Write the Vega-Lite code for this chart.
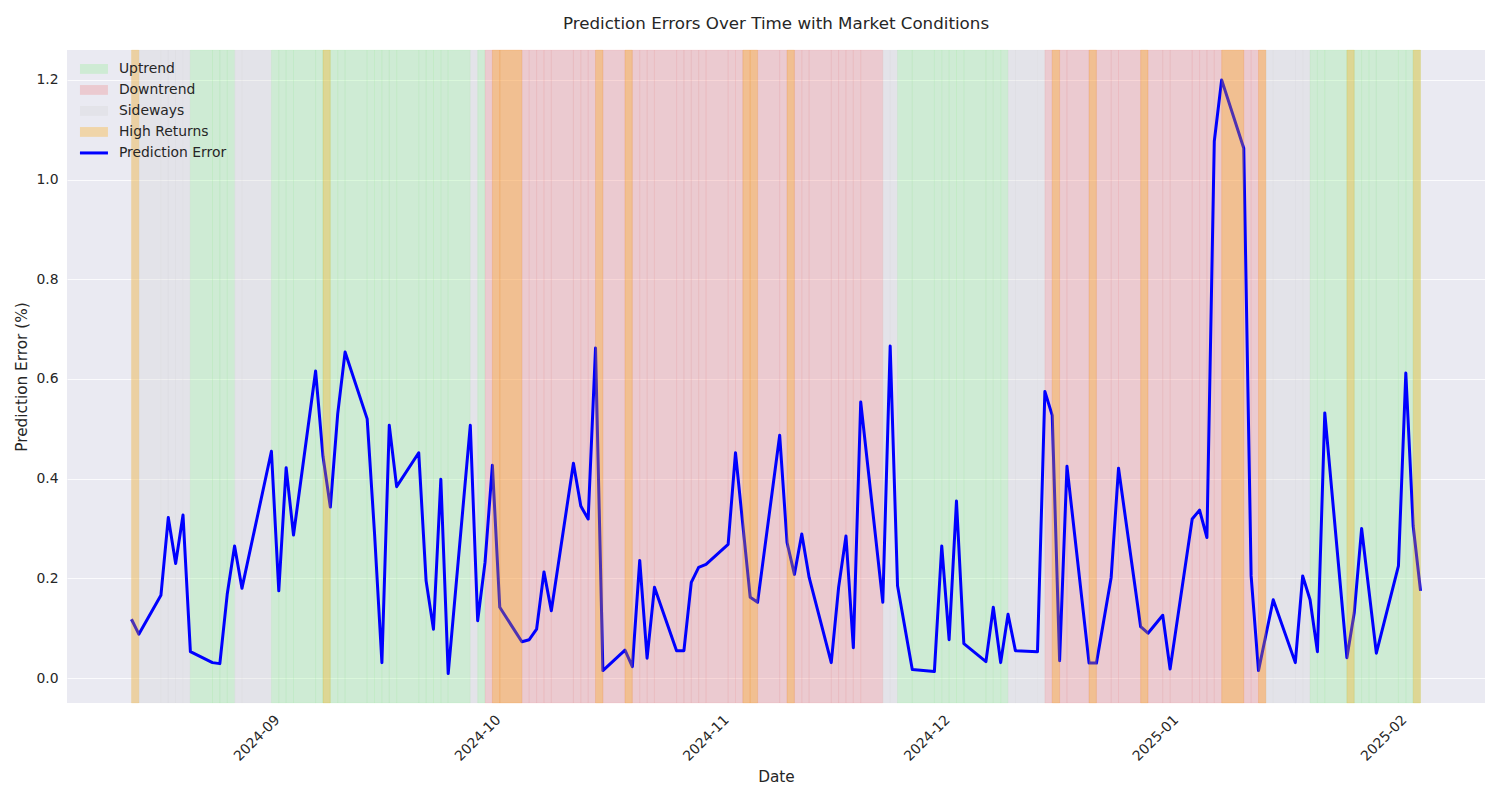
{
  "$schema": "https://vega.github.io/schema/vega-lite/v6.json",
  "width": 1418,
  "height": 653,
  "autosize": "none",
  "padding": {"left": 67, "top": 50, "right": 15, "bottom": 97},
  "background": "white",
  "title": {"text": "Prediction Errors Over Time with Market Conditions", "fontSize": 16.7, "font": "DejaVu Sans", "fontWeight": "normal", "color": "#262626", "offset": 17, "anchor": "middle", "frame": "group"},
  "config": {
    "view": {"fill": "#EAEAF2", "stroke": null},
    "font": "DejaVu Sans",
    "axis": {"domain": false, "ticks": false, "labelFont": "DejaVu Sans", "labelFontSize": 13.9, "labelColor": "#262626", "titleFont": "DejaVu Sans", "titleFontSize": 15.3, "titleFontWeight": "normal", "titleColor": "#262626", "gridColor": "#FFFFFF", "gridWidth": 1, "gridOpacity": 0.8}
  },
  "datasets": {
    "errors": [
      {"date":"2024-08-15","error":0.118},{"date":"2024-08-16","error":0.088},{"date":"2024-08-19","error":0.166},{"date":"2024-08-20","error":0.322},{"date":"2024-08-21","error":0.230},{"date":"2024-08-22","error":0.327},{"date":"2024-08-23","error":0.053},{"date":"2024-08-26","error":0.031},{"date":"2024-08-27","error":0.029},{"date":"2024-08-28","error":0.168},{"date":"2024-08-29","error":0.265},{"date":"2024-08-30","error":0.180},
      {"date":"2024-09-03","error":0.455},{"date":"2024-09-04","error":0.175},{"date":"2024-09-05","error":0.422},{"date":"2024-09-06","error":0.287},{"date":"2024-09-09","error":0.616},{"date":"2024-09-10","error":0.445},{"date":"2024-09-11","error":0.343},{"date":"2024-09-12","error":0.53},{"date":"2024-09-13","error":0.654},{"date":"2024-09-16","error":0.520},{"date":"2024-09-17","error":0.29},{"date":"2024-09-18","error":0.031},{"date":"2024-09-19","error":0.507},{"date":"2024-09-20","error":0.384},{"date":"2024-09-23","error":0.452},{"date":"2024-09-24","error":0.195},{"date":"2024-09-25","error":0.098},{"date":"2024-09-26","error":0.399},{"date":"2024-09-27","error":0.009},{"date":"2024-09-30","error":0.507},
      {"date":"2024-10-01","error":0.115},{"date":"2024-10-02","error":0.232},{"date":"2024-10-03","error":0.427},{"date":"2024-10-04","error":0.142},{"date":"2024-10-07","error":0.073},{"date":"2024-10-08","error":0.077},{"date":"2024-10-09","error":0.098},{"date":"2024-10-10","error":0.213},{"date":"2024-10-11","error":0.135},{"date":"2024-10-14","error":0.431},{"date":"2024-10-15","error":0.345},{"date":"2024-10-16","error":0.319},{"date":"2024-10-17","error":0.662},{"date":"2024-10-18","error":0.015},{"date":"2024-10-21","error":0.056},{"date":"2024-10-22","error":0.023},{"date":"2024-10-23","error":0.236},{"date":"2024-10-24","error":0.040},{"date":"2024-10-25","error":0.182},{"date":"2024-10-28","error":0.055},{"date":"2024-10-29","error":0.055},{"date":"2024-10-30","error":0.192},{"date":"2024-10-31","error":0.222},
      {"date":"2024-11-01","error":0.228},{"date":"2024-11-04","error":0.268},{"date":"2024-11-05","error":0.452},{"date":"2024-11-06","error":0.307},{"date":"2024-11-07","error":0.162},{"date":"2024-11-08","error":0.152},{"date":"2024-11-11","error":0.487},{"date":"2024-11-12","error":0.272},{"date":"2024-11-13","error":0.208},{"date":"2024-11-14","error":0.289},{"date":"2024-11-15","error":0.202},{"date":"2024-11-18","error":0.031},{"date":"2024-11-19","error":0.182},{"date":"2024-11-20","error":0.285},{"date":"2024-11-21","error":0.061},{"date":"2024-11-22","error":0.554},{"date":"2024-11-25","error":0.152},{"date":"2024-11-26","error":0.666},{"date":"2024-11-27","error":0.185},{"date":"2024-11-29","error":0.017},
      {"date":"2024-12-02","error":0.013},{"date":"2024-12-03","error":0.265},{"date":"2024-12-04","error":0.077},{"date":"2024-12-05","error":0.355},{"date":"2024-12-06","error":0.069},{"date":"2024-12-09","error":0.033},{"date":"2024-12-10","error":0.142},{"date":"2024-12-11","error":0.031},{"date":"2024-12-12","error":0.128},{"date":"2024-12-13","error":0.055},{"date":"2024-12-16","error":0.053},{"date":"2024-12-17","error":0.575},{"date":"2024-12-18","error":0.527},{"date":"2024-12-19","error":0.035},{"date":"2024-12-20","error":0.425},{"date":"2024-12-23","error":0.030},{"date":"2024-12-24","error":0.030},{"date":"2024-12-26","error":0.202},{"date":"2024-12-27","error":0.421},{"date":"2024-12-30","error":0.103},{"date":"2024-12-31","error":0.090},
      {"date":"2025-01-02","error":0.126},{"date":"2025-01-03","error":0.018},{"date":"2025-01-06","error":0.319},{"date":"2025-01-07","error":0.337},{"date":"2025-01-08","error":0.282},{"date":"2025-01-09","error":1.077},{"date":"2025-01-10","error":1.200},{"date":"2025-01-13","error":1.063},{"date":"2025-01-14","error":0.205},{"date":"2025-01-15","error":0.015},{"date":"2025-01-16","error":0.086},{"date":"2025-01-17","error":0.157},{"date":"2025-01-20","error":0.031},{"date":"2025-01-21","error":0.205},{"date":"2025-01-22","error":0.157},{"date":"2025-01-23","error":0.053},{"date":"2025-01-24","error":0.532},{"date":"2025-01-27","error":0.041},{"date":"2025-01-28","error":0.131},{"date":"2025-01-29","error":0.300},{"date":"2025-01-30","error":0.175},{"date":"2025-01-31","error":0.050},
      {"date":"2025-02-03","error":0.225},{"date":"2025-02-04","error":0.612},{"date":"2025-02-05","error":0.305},{"date":"2025-02-06","error":0.175}
    ],
    "regimes": [
      {"start":"2024-08-15","end":"2024-08-16","condition":"Sideways"},{"start":"2024-08-16","end":"2024-08-19","condition":"Sideways"},{"start":"2024-08-19","end":"2024-08-20","condition":"Sideways"},{"start":"2024-08-20","end":"2024-08-21","condition":"Sideways"},{"start":"2024-08-21","end":"2024-08-22","condition":"Sideways"},{"start":"2024-08-22","end":"2024-08-23","condition":"Sideways"},
      {"start":"2024-08-23","end":"2024-08-26","condition":"Uptrend"},{"start":"2024-08-26","end":"2024-08-27","condition":"Uptrend"},{"start":"2024-08-27","end":"2024-08-28","condition":"Uptrend"},{"start":"2024-08-28","end":"2024-08-29","condition":"Uptrend"},
      {"start":"2024-08-29","end":"2024-08-30","condition":"Sideways"},{"start":"2024-08-30","end":"2024-09-03","condition":"Sideways"},
      {"start":"2024-09-03","end":"2024-09-04","condition":"Uptrend"},{"start":"2024-09-04","end":"2024-09-05","condition":"Uptrend"},{"start":"2024-09-05","end":"2024-09-06","condition":"Uptrend"},{"start":"2024-09-06","end":"2024-09-09","condition":"Uptrend"},{"start":"2024-09-09","end":"2024-09-10","condition":"Uptrend"},{"start":"2024-09-10","end":"2024-09-11","condition":"Uptrend"},{"start":"2024-09-11","end":"2024-09-12","condition":"Uptrend"},{"start":"2024-09-12","end":"2024-09-13","condition":"Uptrend"},{"start":"2024-09-13","end":"2024-09-16","condition":"Uptrend"},{"start":"2024-09-16","end":"2024-09-17","condition":"Uptrend"},{"start":"2024-09-17","end":"2024-09-18","condition":"Uptrend"},{"start":"2024-09-18","end":"2024-09-19","condition":"Uptrend"},{"start":"2024-09-19","end":"2024-09-20","condition":"Uptrend"},{"start":"2024-09-20","end":"2024-09-23","condition":"Uptrend"},{"start":"2024-09-23","end":"2024-09-24","condition":"Uptrend"},{"start":"2024-09-24","end":"2024-09-25","condition":"Uptrend"},{"start":"2024-09-25","end":"2024-09-26","condition":"Uptrend"},{"start":"2024-09-26","end":"2024-09-27","condition":"Uptrend"},{"start":"2024-09-27","end":"2024-09-30","condition":"Uptrend"},
      {"start":"2024-09-30","end":"2024-10-01","condition":"Sideways"},
      {"start":"2024-10-01","end":"2024-10-02","condition":"Uptrend"},
      {"start":"2024-10-02","end":"2024-10-03","condition":"Downtrend"},{"start":"2024-10-03","end":"2024-10-04","condition":"Downtrend"},{"start":"2024-10-04","end":"2024-10-07","condition":"Downtrend"},{"start":"2024-10-07","end":"2024-10-08","condition":"Downtrend"},{"start":"2024-10-08","end":"2024-10-09","condition":"Downtrend"},{"start":"2024-10-09","end":"2024-10-10","condition":"Downtrend"},{"start":"2024-10-10","end":"2024-10-11","condition":"Downtrend"},{"start":"2024-10-11","end":"2024-10-14","condition":"Downtrend"},{"start":"2024-10-14","end":"2024-10-15","condition":"Downtrend"},{"start":"2024-10-15","end":"2024-10-16","condition":"Downtrend"},{"start":"2024-10-16","end":"2024-10-17","condition":"Downtrend"},{"start":"2024-10-17","end":"2024-10-18","condition":"Downtrend"},{"start":"2024-10-18","end":"2024-10-21","condition":"Downtrend"},{"start":"2024-10-21","end":"2024-10-22","condition":"Downtrend"},{"start":"2024-10-22","end":"2024-10-23","condition":"Downtrend"},{"start":"2024-10-23","end":"2024-10-24","condition":"Downtrend"},{"start":"2024-10-24","end":"2024-10-25","condition":"Downtrend"},{"start":"2024-10-25","end":"2024-10-28","condition":"Downtrend"},{"start":"2024-10-28","end":"2024-10-29","condition":"Downtrend"},{"start":"2024-10-29","end":"2024-10-30","condition":"Downtrend"},{"start":"2024-10-30","end":"2024-10-31","condition":"Downtrend"},{"start":"2024-10-31","end":"2024-11-01","condition":"Downtrend"},{"start":"2024-11-01","end":"2024-11-04","condition":"Downtrend"},{"start":"2024-11-04","end":"2024-11-05","condition":"Downtrend"},{"start":"2024-11-05","end":"2024-11-06","condition":"Downtrend"},{"start":"2024-11-06","end":"2024-11-07","condition":"Downtrend"},{"start":"2024-11-07","end":"2024-11-08","condition":"Downtrend"},{"start":"2024-11-08","end":"2024-11-11","condition":"Downtrend"},{"start":"2024-11-11","end":"2024-11-12","condition":"Downtrend"},{"start":"2024-11-12","end":"2024-11-13","condition":"Downtrend"},{"start":"2024-11-13","end":"2024-11-14","condition":"Downtrend"},{"start":"2024-11-14","end":"2024-11-15","condition":"Downtrend"},{"start":"2024-11-15","end":"2024-11-18","condition":"Downtrend"},{"start":"2024-11-18","end":"2024-11-19","condition":"Downtrend"},{"start":"2024-11-19","end":"2024-11-20","condition":"Downtrend"},{"start":"2024-11-20","end":"2024-11-21","condition":"Downtrend"},{"start":"2024-11-21","end":"2024-11-22","condition":"Downtrend"},{"start":"2024-11-22","end":"2024-11-25","condition":"Downtrend"},
      {"start":"2024-11-25","end":"2024-11-26","condition":"Sideways"},{"start":"2024-11-26","end":"2024-11-27","condition":"Sideways"},
      {"start":"2024-11-27","end":"2024-11-29","condition":"Uptrend"},{"start":"2024-11-29","end":"2024-12-02","condition":"Uptrend"},{"start":"2024-12-02","end":"2024-12-03","condition":"Uptrend"},{"start":"2024-12-03","end":"2024-12-04","condition":"Uptrend"},{"start":"2024-12-04","end":"2024-12-05","condition":"Uptrend"},{"start":"2024-12-05","end":"2024-12-06","condition":"Uptrend"},{"start":"2024-12-06","end":"2024-12-09","condition":"Uptrend"},{"start":"2024-12-09","end":"2024-12-10","condition":"Uptrend"},{"start":"2024-12-10","end":"2024-12-11","condition":"Uptrend"},{"start":"2024-12-11","end":"2024-12-12","condition":"Uptrend"},
      {"start":"2024-12-12","end":"2024-12-13","condition":"Sideways"},{"start":"2024-12-13","end":"2024-12-16","condition":"Sideways"},{"start":"2024-12-16","end":"2024-12-17","condition":"Sideways"},
      {"start":"2024-12-17","end":"2024-12-18","condition":"Downtrend"},{"start":"2024-12-18","end":"2024-12-19","condition":"Downtrend"},{"start":"2024-12-19","end":"2024-12-20","condition":"Downtrend"},{"start":"2024-12-20","end":"2024-12-23","condition":"Downtrend"},{"start":"2024-12-23","end":"2024-12-24","condition":"Downtrend"},{"start":"2024-12-24","end":"2024-12-26","condition":"Downtrend"},{"start":"2024-12-26","end":"2024-12-27","condition":"Downtrend"},{"start":"2024-12-27","end":"2024-12-30","condition":"Downtrend"},{"start":"2024-12-30","end":"2024-12-31","condition":"Downtrend"},{"start":"2024-12-31","end":"2025-01-02","condition":"Downtrend"},{"start":"2025-01-02","end":"2025-01-03","condition":"Downtrend"},{"start":"2025-01-03","end":"2025-01-06","condition":"Downtrend"},{"start":"2025-01-06","end":"2025-01-07","condition":"Downtrend"},{"start":"2025-01-07","end":"2025-01-08","condition":"Downtrend"},{"start":"2025-01-08","end":"2025-01-09","condition":"Downtrend"},{"start":"2025-01-09","end":"2025-01-10","condition":"Downtrend"},{"start":"2025-01-10","end":"2025-01-13","condition":"Downtrend"},{"start":"2025-01-13","end":"2025-01-14","condition":"Downtrend"},{"start":"2025-01-14","end":"2025-01-15","condition":"Downtrend"},{"start":"2025-01-15","end":"2025-01-16","condition":"Downtrend"},
      {"start":"2025-01-16","end":"2025-01-17","condition":"Sideways"},{"start":"2025-01-17","end":"2025-01-20","condition":"Sideways"},{"start":"2025-01-20","end":"2025-01-21","condition":"Sideways"},{"start":"2025-01-21","end":"2025-01-22","condition":"Sideways"},
      {"start":"2025-01-22","end":"2025-01-23","condition":"Uptrend"},{"start":"2025-01-23","end":"2025-01-24","condition":"Uptrend"},{"start":"2025-01-24","end":"2025-01-27","condition":"Uptrend"},{"start":"2025-01-27","end":"2025-01-28","condition":"Uptrend"},{"start":"2025-01-28","end":"2025-01-29","condition":"Uptrend"},{"start":"2025-01-29","end":"2025-01-30","condition":"Uptrend"},{"start":"2025-01-30","end":"2025-01-31","condition":"Uptrend"},{"start":"2025-01-31","end":"2025-02-03","condition":"Uptrend"},{"start":"2025-02-03","end":"2025-02-04","condition":"Uptrend"},{"start":"2025-02-04","end":"2025-02-05","condition":"Uptrend"},{"start":"2025-02-05","end":"2025-02-06","condition":"Uptrend"}
    ],
    "highReturns": [
      {"start":"2024-08-15","end":"2024-08-16"},{"start":"2024-09-10","end":"2024-09-11"},{"start":"2024-10-03","end":"2024-10-04"},{"start":"2024-10-04","end":"2024-10-07"},{"start":"2024-10-17","end":"2024-10-18"},{"start":"2024-10-21","end":"2024-10-22"},{"start":"2024-11-06","end":"2024-11-07"},{"start":"2024-11-07","end":"2024-11-08"},{"start":"2024-11-12","end":"2024-11-13"},{"start":"2024-12-18","end":"2024-12-19"},{"start":"2024-12-23","end":"2024-12-24"},{"start":"2024-12-30","end":"2024-12-31"},{"start":"2025-01-10","end":"2025-01-13"},{"start":"2025-01-15","end":"2025-01-16"},{"start":"2025-01-27","end":"2025-01-28"},{"start":"2025-02-05","end":"2025-02-06"}
    ]
  },
  "layer": [
    {
      "data": {"name": "regimes"},
      "mark": {"type": "rect", "fillOpacity": 0.3, "strokeWidth": 0.8, "strokeOpacity": 0.13},
      "encoding": {
        "x": {
          "field": "start", "type": "temporal",
          "scale": {"type": "utc", "domain": [{"year": 2024, "month": 8, "date": 6, "hours": 6, "utc": true}, {"year": 2025, "month": 2, "date": 14, "hours": 18, "utc": true}]},
          "axis": {
            "title": "Date", "titlePadding": 6,
            "values": [{"year": 2024, "month": 9, "date": 1, "utc": true}, {"year": 2024, "month": 10, "date": 1, "utc": true}, {"year": 2024, "month": 11, "date": 1, "utc": true}, {"year": 2024, "month": 12, "date": 1, "utc": true}, {"year": 2025, "month": 1, "date": 1, "utc": true}, {"year": 2025, "month": 2, "date": 1, "utc": true}],
            "format": "%Y-%m", "labelAngle": -45, "labelAlign": "center", "labelBaseline": "middle", "labelPadding": 35, "labelOverlap": false, "labelFlush": false, "grid": false
          }
        },
        "x2": {"field": "end"},
        "stroke": {
          "field": "condition", "type": "nominal",
          "scale": {"domain": ["Uptrend", "Downtrend", "Sideways"], "range": ["#90EE90", "#F08080", "#D3D3D3"]},
          "legend": null
        },
        "color": {
          "field": "condition", "type": "nominal",
          "scale": {"domain": ["Uptrend", "Downtrend", "Sideways", "High Returns", "Prediction Error"], "range": ["#90EE90", "#F08080", "#D3D3D3", "#FFA500", "#0000FF"]},
          "legend": {
            "title": null, "orient": "none", "legendX": 20, "legendY": 12,
            "labelFont": "DejaVu Sans", "labelFontSize": 13.9, "labelColor": "#262626",
            "symbolSize": 196, "rowPadding": 6, "labelOffset": 18,
            "encode": {
              "symbols": {
                "update": {
                  "shape": {"signal": "datum.value === 'Prediction Error' ? 'M-2,0H2' : 'M-2,-0.7H2V0.7H-2Z'"},
                  "fill": {"signal": "datum.value === 'Uptrend' ? '#90EE90' : datum.value === 'Downtrend' ? '#F08080' : datum.value === 'Sideways' ? '#D3D3D3' : datum.value === 'High Returns' ? '#FFA500' : 'transparent'"},
                  "fillOpacity": {"signal": "datum.value === 'Prediction Error' ? 0 : 0.3"},
                  "stroke": {"signal": "datum.value === 'Prediction Error' ? '#0000FF' : 'transparent'"},
                  "strokeWidth": {"signal": "datum.value === 'Prediction Error' ? 3 : 0"},
                  "strokeOpacity": {"value": 1},
                  "opacity": {"value": 1}
                }
              }
            }
          }
        }
      }
    },
    {
      "data": {"name": "errors"},
      "mark": {"type": "line", "strokeWidth": 3, "strokeJoin": "round"},
      "encoding": {
        "x": {"field": "date", "type": "temporal"},
        "y": {
          "field": "error", "type": "quantitative",
          "scale": {"domain": [-0.05, 1.26], "nice": false, "zero": false},
          "axis": {"title": "Prediction Error (%)", "titlePadding": 6, "values": [0, 0.2, 0.4, 0.6, 0.8, 1.0, 1.2], "format": ".1f", "labelPadding": 9, "grid": true}
        },
        "color": {"datum": "Prediction Error"}
      }
    },
    {
      "data": {"name": "highReturns"},
      "mark": {"type": "rect", "fillOpacity": 0.3, "stroke": "#FFA500", "strokeWidth": 0.8, "strokeOpacity": 0.12},
      "encoding": {
        "x": {"field": "start", "type": "temporal"},
        "x2": {"field": "end"},
        "color": {"datum": "High Returns"}
      }
    }
  ]
}
